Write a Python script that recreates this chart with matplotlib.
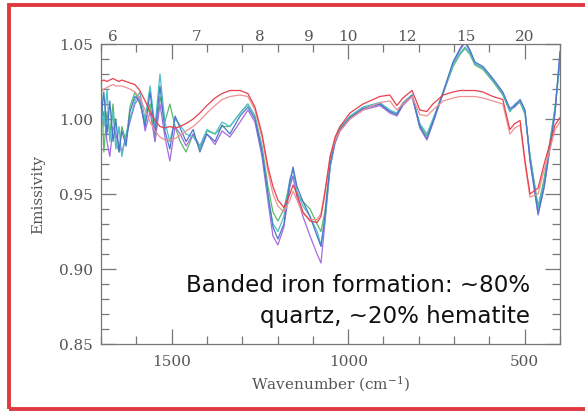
import matplotlib.pyplot as plt
import numpy as np
from matplotlib.patches import Rectangle
from matplotlib.ticker import MultipleLocator, FormatStrFormatter, NullLocator

# wavenumber grid (cm^-1), shared by all spectra
wavenumber = [1700, 1692, 1683, 1675, 1666, 1658, 1649, 1641, 1629, 1618,
              1604, 1590, 1575, 1561, 1547, 1533, 1519, 1505, 1490, 1476,
              1459, 1439, 1420, 1400, 1377, 1357, 1335, 1306, 1284, 1264,
              1244, 1227, 1213, 1199, 1182, 1165, 1156, 1145, 1128, 1108,
              1088, 1077, 1066, 1051, 1037, 1023, 995, 958, 910, 882,
              862, 845, 819, 797, 777, 760, 731, 703, 683, 669,
              655, 641, 618, 590, 562, 542, 528, 513, 499, 485,
              462, 445, 428, 414, 400]

# model spectra (red / pink)
red_model = [1.025, 1.026, 1.025, 1.026, 1.027, 1.026, 1.025, 1.026, 1.025, 1.024,
             1.023, 1.019, 1.012, 1.005, 0.999, 0.995, 0.994, 0.995, 0.994, 0.995,
             0.997, 1.000, 1.004, 1.009, 1.014, 1.017, 1.019, 1.019, 1.017, 1.008,
             0.990, 0.968, 0.955, 0.946, 0.941, 0.950, 0.956, 0.950, 0.938, 0.932,
             0.931, 0.935, 0.950, 0.975, 0.988, 0.995, 1.004, 1.010, 1.015, 1.016,
             1.009, 1.014, 1.019, 1.006, 1.005, 1.010, 1.016, 1.018, 1.019, 1.019,
             1.019, 1.019, 1.018, 1.015, 1.013, 0.993, 0.997, 0.999, 0.972, 0.950,
             0.954, 0.970, 0.984, 0.996, 1.001]

pink_model = [1.018, 1.020, 1.021, 1.022, 1.023, 1.022, 1.022, 1.022, 1.021, 1.020,
              1.018, 1.014, 1.006, 0.998, 0.992, 0.988, 0.986, 0.986, 0.987, 0.989,
              0.992, 0.995, 0.999, 1.004, 1.009, 1.013, 1.015, 1.016, 1.015, 1.006,
              0.988, 0.965, 0.950, 0.942, 0.938, 0.946, 0.952, 0.946, 0.937, 0.933,
              0.933, 0.937, 0.952, 0.975, 0.986, 0.992, 1.000, 1.006, 1.011, 1.012,
              1.006, 1.010, 1.015, 1.003, 1.002, 1.006, 1.012, 1.014, 1.015, 1.015,
              1.015, 1.015, 1.014, 1.012, 1.010, 0.990, 0.994, 0.996, 0.970, 0.948,
              0.950, 0.966, 0.980, 0.993, 0.998]

# measured spectra
blue = [1.000, 1.018, 0.990, 1.012, 0.985, 1.000, 0.978, 0.992, 0.982, 1.005,
        1.015, 1.012, 0.995, 1.018, 0.990, 1.022, 0.992, 0.980, 1.002, 0.994,
        0.985, 0.993, 0.978, 0.990, 0.985, 0.996, 0.990, 1.002, 1.008, 1.000,
        0.978, 0.950, 0.928, 0.920, 0.930, 0.958, 0.968, 0.955, 0.945, 0.935,
        0.922, 0.915, 0.935, 0.970, 0.985, 0.993, 1.001, 1.007, 1.010, 1.005,
        1.003, 1.010, 1.016, 0.995, 0.987, 0.998, 1.018, 1.038, 1.047, 1.052,
        1.046, 1.038, 1.035, 1.027, 1.018, 1.007, 1.009, 1.013, 1.006, 0.973,
        0.937, 0.955, 0.982, 1.005, 1.045]

cyan = [1.010, 0.995, 1.020, 0.985, 1.005, 0.980, 0.995, 0.975, 0.990, 1.000,
        1.012, 1.018, 1.000, 1.022, 0.995, 1.030, 0.998, 0.985, 1.000, 0.996,
        0.990, 0.988, 0.982, 0.993, 0.990, 0.998, 0.995, 1.004, 1.010, 1.002,
        0.980, 0.948, 0.930, 0.925, 0.935, 0.960, 0.966, 0.952, 0.942, 0.935,
        0.925, 0.916, 0.932, 0.968, 0.985, 0.994, 1.002, 1.008, 1.011, 1.006,
        1.004, 1.011, 1.016, 0.997, 0.990, 1.000, 1.018, 1.036, 1.044, 1.048,
        1.044, 1.037, 1.034, 1.026, 1.017, 1.005, 1.010, 1.012, 1.004, 0.975,
        0.940, 0.958, 0.985, 1.008, 1.040]

green = [1.030, 0.978, 1.005, 0.990, 1.010, 0.985, 0.978, 0.995, 0.985, 1.008,
         1.018, 1.010, 0.998, 1.010, 0.985, 1.015, 0.998, 1.010, 0.995, 0.985,
         0.978, 0.990, 0.980, 0.992, 0.990, 0.995, 0.995, 1.004, 1.010, 1.002,
         0.982, 0.955, 0.938, 0.932, 0.940, 0.958, 0.962, 0.950, 0.945, 0.940,
         0.930, 0.925, 0.938, 0.970, 0.986, 0.995, 1.001, 1.007, 1.010, 1.005,
         1.003, 1.010, 1.015, 0.996, 0.989, 0.999, 1.017, 1.035, 1.043, 1.047,
         1.043, 1.036, 1.033, 1.025, 1.016, 1.005, 1.009, 1.011, 1.003, 0.976,
         0.942, 0.960, 0.986, 1.007, 1.038]

purple = [0.995, 1.005, 0.985, 0.975, 0.995, 0.990, 0.982, 0.978, 0.988, 0.998,
          1.010, 1.015, 0.992, 1.005, 0.985, 1.010, 0.988, 0.972, 0.995, 0.990,
          0.982, 0.990, 0.982, 0.990, 0.983, 0.992, 0.988, 0.998, 1.006, 0.998,
          0.975, 0.945, 0.922, 0.916, 0.928, 0.955, 0.962, 0.948, 0.935, 0.922,
          0.910, 0.904, 0.930, 0.968, 0.984, 0.992, 1.000, 1.006, 1.009, 1.004,
          1.002, 1.009, 1.015, 0.994, 0.986, 0.997, 1.017, 1.037, 1.046, 1.051,
          1.045, 1.037, 1.034, 1.026, 1.017, 1.006, 1.008, 1.012, 1.005, 0.972,
          0.936, 0.954, 0.981, 1.004, 1.044]

micron_ticks = [6, 7, 8, 9, 10, 12, 15, 20]

note = "Banded iron formation: ~80%\nquartz, ~20% hematite"


def to_micron(x):
    x = np.asarray(x, dtype=float)
    with np.errstate(divide='ignore', invalid='ignore'):
        return np.where(np.abs(x) > 1e-9, 1e4 / x, 1e9)


plt.rcParams['mathtext.fontset'] = 'dejavuserif'

fig = plt.figure(figsize=(5.85, 4.14), dpi=100)
ax = fig.add_axes([101/585, 1 - 345/414, 459/585, 300/414])

ax.plot(wavenumber, green, color='#5cb86a', lw=0.9)
ax.plot(wavenumber, purple, color='#a66be0', lw=0.9)
ax.plot(wavenumber, cyan, color='#4cc0c8', lw=0.9)
ax.plot(wavenumber, blue, color='#4a78c8', lw=0.9)
ax.plot(wavenumber, pink_model, color='#f09090', lw=0.9)
ax.plot(wavenumber, red_model, color='#e8404c', lw=0.9)

ax.set_xlim(1700, 400)
ax.set_ylim(0.85, 1.05)
ax.xaxis.set_major_locator(MultipleLocator(500))
ax.xaxis.set_minor_locator(MultipleLocator(100))
ax.yaxis.set_major_locator(MultipleLocator(0.05))
ax.yaxis.set_minor_locator(MultipleLocator(0.01))
ax.yaxis.set_major_formatter(FormatStrFormatter('%.2f'))

ax.tick_params(which='both', direction='in', top=True, right=True,
               color='#777777', labelcolor='#555555', width=0.9)
ax.tick_params(which='major', length=11)
ax.tick_params(which='minor', length=5.5)
ax.tick_params(axis='x', pad=7)
ax.tick_params(axis='y', pad=6)
for lab in ax.get_xticklabels() + ax.get_yticklabels():
    lab.set_family('DejaVu Serif')
    lab.set_fontsize(11)
for s in ax.spines.values():
    s.set_color('#777777')
    s.set_linewidth(0.9)

sec = ax.secondary_xaxis('top', functions=(to_micron, to_micron))
sec.set_xticks(micron_ticks)
sec.set_xticklabels([str(m) for m in micron_ticks], family='DejaVu Serif',
                    fontsize=11, color='#555555')
sec.xaxis.set_minor_locator(NullLocator())
sec.tick_params(length=0, pad=1)
sec.spines['top'].set_visible(False)

ax.set_xlabel('Wavenumber (cm$^{-1}$)', family='DejaVu Serif', fontsize=11,
              color='#555555', labelpad=4)
ax.set_ylabel('Emissivity', family='DejaVu Serif', fontsize=11,
              color='#555555', labelpad=10)

ax.text(0.935, 0.147, note, transform=ax.transAxes, ha='right', va='center',
        multialignment='right', fontsize=16.6, family='DejaVu Sans',
        linespacing=1.4, color='#111111')

fig.patches.append(Rectangle((9/585, 1 - 410/414), 2, 404/414,
                             transform=fig.transFigure, fill=False,
                             ec='#e03a40', lw=2.8))

fig.savefig('out.png', dpi=100)
